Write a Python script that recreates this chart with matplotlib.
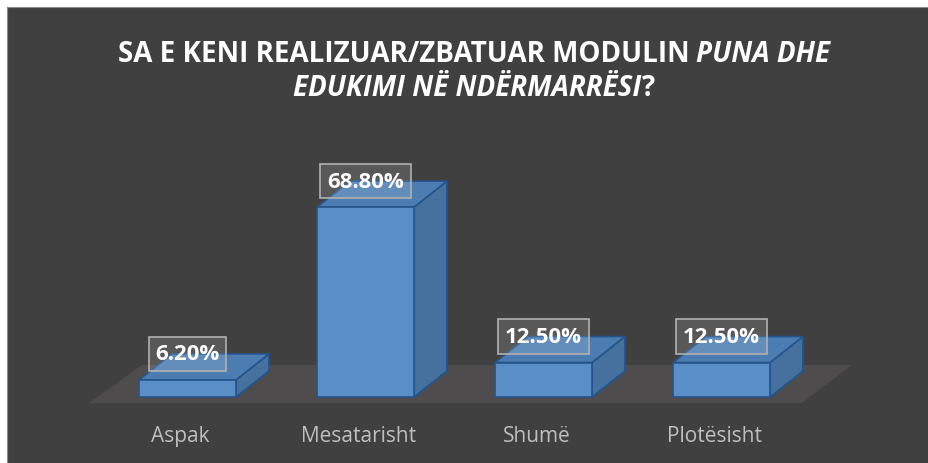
import matplotlib
matplotlib.use("Agg")
import matplotlib.pyplot as plt
from matplotlib.patches import Polygon

# data
categories = ["Aspak", "Mesatarisht", "Shumë", "Plotësisht"]
values = [6.2, 68.8, 12.5, 12.5]
value_labels = ["6.20%", "68.80%", "12.50%", "12.50%"]
title_line1 = [("SA E KENI REALIZUAR/ZBATUAR MODULIN ", "normal"), ("PUNA DHE", "italic")]
title_line2 = [("EDUKIMI NË NDËRMARRËSI", "italic"), ("?", "normal")]

BG = "#404040"
FLOOR = "#4e4c4d"
FRONT = "#5a8ec6"
SIDE = "#46719f"
TOP = "#4c7db2"
EDGE = "#24548a"

fig = plt.figure(figsize=(9.29, 4.64), dpi=100)
fig.patch.set_facecolor("white")
ax = fig.add_axes([0, 0, 1, 1])
ax.set_facecolor("white")
ax.axis("off")
# axes scale: 1 category = 178 px, 1 % = 2.76 px
ax.set_xlim(-187.5 / 178, (929 - 187.5) / 178)
ax.set_ylim((398 - 464) / 2.76, 398 / 2.76)

# dark chart area (white margin at top / left)
x0, x1 = ax.get_xlim()
y0, y1 = ax.get_ylim()
px = (x1 - x0) / 929
py = (y1 - y0) / 464
cl, ct = x0 + 7 * px, y1 - 8 * py
ax.add_patch(Polygon([(cl, y0 - 10), (x1 + 1, y0 - 10), (x1 + 1, ct), (cl, ct)],
                     closed=True, facecolor=BG, edgecolor="none", zorder=0))
ax.plot([cl, cl, x1 + 1], [y0 - 10, ct, ct], color="#8a8a8a", lw=0.8, zorder=0.5)
ax.set_xlim(x0, x1)
ax.set_ylim(y0, y1)

# floor
ax.add_patch(Polygon([(-0.553, -2.17), (3.452, -2.17), (3.733, 11.6), (-0.256, 11.6)],
                     closed=True, facecolor=FLOOR, edgecolor="none", zorder=1))

hw = 0.2725   # half bar width
dx = 0.185    # depth offset x
dy = 9.42     # depth offset y

for i, v in enumerate(values):
    l, r = i - hw, i + hw
    # right side
    ax.add_patch(Polygon([(r, 0), (r + dx, dy), (r + dx, v + dy), (r, v)],
                         closed=True, facecolor=SIDE, edgecolor=EDGE, lw=1.2, zorder=2))
    # top
    ax.add_patch(Polygon([(l, v), (r, v), (r + dx, v + dy), (l + dx, v + dy)],
                         closed=True, facecolor=TOP, edgecolor=EDGE, lw=1.2, zorder=2))
    # front
    ax.add_patch(Polygon([(l, 0), (r, 0), (r, v), (l, v)],
                         closed=True, facecolor=FRONT, edgecolor=EDGE, lw=1.2, zorder=3))
    ax.text(i, v + dy, value_labels[i], ha="center", va="center", color="white",
            fontsize=16, fontweight="bold", family="Open Sans", zorder=5,
            bbox=dict(boxstyle="square,pad=0.3", facecolor=(1, 1, 1, 0.13),
                      edgecolor="#b0b0b0", lw=1.2))
    ax.text(i - 0.04, -14.1, categories[i], ha="center", va="center", color="#bfbfbf",
            fontsize=15, family="Open Sans", zorder=5)


def draw_line(parts, y_px, size):
    r = fig.canvas.get_renderer()
    texts = []
    widths = []
    for s, style in parts:
        t = fig.text(0, 0, s, color="white", fontsize=size, fontweight="bold",
                     style=style, family="Open Sans", va="center")
        w = t.get_window_extent(r).width
        texts.append(t)
        widths.append(w)
    total = sum(widths)
    cx = 474
    x = cx - total / 2
    for t, w in zip(texts, widths):
        t.set_position((x / 929, 1 - y_px / 464))
        x += w


draw_line(title_line1, 54, 20)
draw_line(title_line2, 89, 20)

fig.savefig("out.png", dpi=100, facecolor=fig.get_facecolor())
